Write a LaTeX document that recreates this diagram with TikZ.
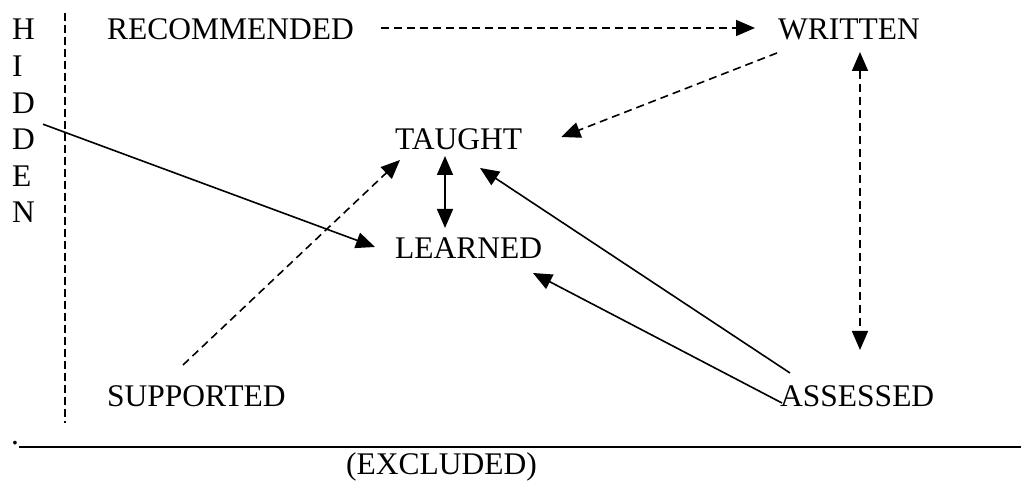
\documentclass[tikz,border=0pt]{standalone}
\usepackage{fontspec}
\setmainfont{Liberation Serif}
\usetikzlibrary{arrows.meta}

\begin{document}
\begin{tikzpicture}[x=1pt,y=1pt,
    >={Triangle[length=19pt,width=16pt]},
    txt/.style={anchor=base west,inner sep=0pt,font=\fontsize{31.5}{38}\selectfont},
    dline/.style={line width=1.6pt,dash pattern=on 8pt off 5pt},
    sline/.style={line width=1.6pt}]
\useasboundingbox (0,0) rectangle (1021,484);

% HIDDEN down the left side
\foreach \l [count=\i] in {H,I,D,D,E,N}
    \node[txt] (h\i) at (12,480.6-36.6*\i) {\l};
\draw[line width=1.3pt,dash pattern=on 8pt off 4pt] (65,471) -- (65,61);

\node[txt] (rec) at (107,444) {RECOMMENDED};
\node[txt] (wri) at (778,444) {WRITTEN};
\node[txt] (taught) at (395,334) {TAUGHT};
\node[txt] (learned) at (395,225) {LEARNED};
\node[txt] (supported) at (107,77) {SUPPORTED};
\node[txt] (assessed) at (780,77) {ASSESSED};

% bottom rule
\node[txt] (dot) at (11,39) {.};
\coordinate (ruleend) at (1021,37);
\draw[line width=1.8pt] ([yshift=-2pt]dot.base east) -- (ruleend);
\node[txt] (excluded) at (346,9) {(EXCLUDED)};

\draw[dline,->] ([shift={(27,12)}]rec.base east) -- ([shift={(-23,12)}]wri.base west);
\draw[dline,->] ([shift={(-1,-13)}]wri.base west) -- ([shift={(39,13)}]taught.base east);
\draw[dline,<->] ([shift={(82,-12)}]wri.base west) -- ([shift={(80,57)}]assessed.base west);
\draw[sline,<->] ([shift={(50,-6)}]taught.base west) -- ([shift={(50,31)}]learned.base west);
\draw[sline,->] ([shift={(10,34)}]assessed.base west) -- ([shift={(85,-18)}]taught.base west);
\draw[sline,->] ([shift={(2,4)}]assessed.base west) -- ([shift={(138,-14)}]learned.base west);
\draw[dline,->] ([shift={(76,42)}]supported.base west) -- ([shift={(5,-10)}]taught.base west);
\draw[sline,->] ([shift={(31,-11)}]h3.base west) -- ([shift={(-20,12)}]learned.base west);
\end{tikzpicture}
\end{document}
